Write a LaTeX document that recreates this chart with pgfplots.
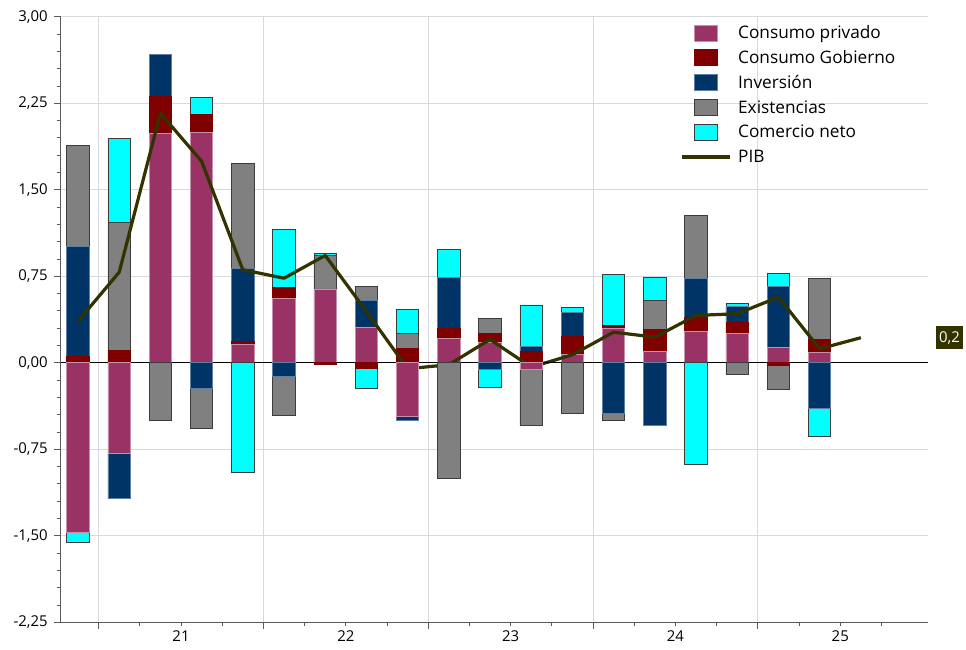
\documentclass[border=0pt]{standalone}
\usepackage{fontspec}
\setmainfont{Open Sans}
\usepackage{pgfplots}
\usepackage{pgfplotstable}
\pgfplotsset{compat=1.18}

\definecolor{cpriv}{HTML}{993366}
\definecolor{cpriv2}{HTML}{C890AC}
\definecolor{cgob}{HTML}{800000}
\definecolor{cinv}{HTML}{003366}
\definecolor{cinv2}{HTML}{5E7FA2}
\definecolor{cexi}{HTML}{808080}
\definecolor{ccom}{HTML}{00FFFF}
\definecolor{cedge}{HTML}{3C3C3C}
\definecolor{cpib}{HTML}{333300}
\definecolor{cgrid}{HTML}{D6DADF}
\definecolor{caxis}{HTML}{5A5A5A}

% aportaciones al PIB por trimestre (0 = 2020 T4)
\pgfplotstableread{
i  priv    gob     inv     exi     com
0  -1.470  0.055   0.950   0.880  -0.090
1  -0.790  0.107  -0.390   1.110   0.730
2   1.990  0.320   0.360  -0.500   0.000
3   2.000  0.150  -0.220  -0.350   0.150
4   0.159  0.028   0.628   0.909  -0.948
5   0.560  0.095  -0.116  -0.341   0.497
6   0.640 -0.010   0.000   0.290   0.020
7   0.310 -0.050   0.230   0.125  -0.170
8  -0.463  0.125  -0.037   0.130   0.210
9   0.208  0.087   0.447  -1.000   0.237
10  0.176  0.075  -0.061   0.130  -0.156
11 -0.060  0.095   0.046  -0.483   0.360
12  0.069  0.162   0.208  -0.437   0.043
13  0.300  0.020  -0.440  -0.060   0.442
14  0.100  0.186  -0.543   0.254   0.202
15  0.271  0.124   0.338   0.543  -0.884
16  0.251  0.101   0.136  -0.104   0.028
17  0.135 -0.023   0.526  -0.211   0.116
18  0.092  0.107  -0.399   0.534  -0.237
}\contrib

\pgfplotstableread{
i  pib
0  0.360
1  0.785
2  2.163
3  1.747
4  0.806
5  0.733
6  0.930
7  0.445
8  -0.052
9  -0.017
10 0.202
11 -0.038
12 0.069
13 0.265
14 0.222
15 0.410
16 0.425
17 0.569
18 0.121
19 0.217
}\pib

\pgfplotsset{
  base/.style={
    scale only axis, width=867.3bp, height=605.6bp,
    at={(0,0)}, anchor=south west,
    xmin=-0.42, xmax=20.63, ymin=-2.25, ymax=3,
    ybar stacked, bar width=22.5bp,
  },
  barleg/.style={legend image code/.code={
    \path[draw=none, fill=none] (-13bp,0) -- (35bp,0);
    \draw[##1, line width=0.8bp] (0bp,-8bp) rectangle (23bp,8bp);}},
  pibleg/.style={legend image code/.code={
    \draw[##1] (-13bp,0) -- (35bp,0);}},
  spriv/.style={fill=cpriv, draw=cpriv2, line width=0.8bp},
  sgob/.style={fill=cgob, draw=cgob, line width=0.8bp},
  sinv/.style={fill=cinv, draw=cinv2, line width=0.8bp},
  sexi/.style={fill=cexi, draw=cedge, line width=0.8bp},
  scom/.style={fill=ccom, draw=cedge, line width=0.8bp},
}

\begin{document}
\begin{tikzpicture}
\path[use as bounding box] (-60.7bp,-27.7bp) rectangle (905.3bp,622.3bp);

% parte positiva, rejilla y leyenda
\begin{axis}[
    base,
    axis x line*=bottom, axis y line*=left,
    axis line style={-, caxis, line width=0.8bp},
    tick align=outside,
    major tick length=6.5bp, minor tick length=4bp,
    tick style={caxis, line width=0.8bp},
    xtick={0.5,4.5,8.5,12.5,16.5},
    xticklabels={},
    minor xtick={1.5,2.5,3.5,5.5,6.5,7.5,9.5,10.5,11.5,13.5,14.5,15.5,17.5,18.5,19.5},
    extra x ticks={2.5,6.5,10.5,14.5,18.5},
    extra x tick labels={21,22,23,24,25},
    extra x tick style={major tick length=0pt, grid=none},
    xticklabel style={font=\fontsize{15}{18}\selectfont, yshift=-5bp},
    ytick={-2.25,-1.5,-0.75,0,0.75,1.5,2.25,3},
    minor y tick num=4,
    yticklabel style={font=\fontsize{15}{18}\selectfont, xshift=-3bp,
      /pgf/number format/.cd, fixed, fixed zerofill, precision=2, use comma},
    /pgf/number format/assume math mode=true,
    xmajorgrids, ymajorgrids,
    grid style={cgrid, line width=0.8bp},
    legend cell align=left,
    legend style={at={(0.714,0.9935)}, anchor=north west, draw=none, fill=none,
      inner sep=0pt, outer sep=0pt, column sep=7bp, row sep=0pt,
      font=\fontsize{17.3}{20}\selectfont,
      nodes={inner sep=0pt, minimum height=24.8bp}},
]
\addplot[spriv, barleg] table[x=i, y expr={max(\thisrow{priv},0)}]{\contrib};
\addlegendentry{Consumo privado}
\addplot[sgob, barleg] table[x=i, y expr={max(\thisrow{gob},0)}]{\contrib};
\addlegendentry{Consumo Gobierno}
\addplot[sinv, barleg] table[x=i, y expr={max(\thisrow{inv},0)}]{\contrib};
\addlegendentry{Inversión}
\addplot[sexi, barleg] table[x=i, y expr={max(\thisrow{exi},0)}]{\contrib};
\addlegendentry{Existencias}
\addplot[scom, barleg] table[x=i, y expr={max(\thisrow{com},0)}]{\contrib};
\addlegendentry{Comercio neto}
\addlegendimage{pibleg, cpib, line width=3.2bp}
\addlegendentry{PIB}
\end{axis}

% parte negativa y PIB
\begin{axis}[base, hide axis, clip=false]
\addplot[spriv] table[x=i, y expr={min(\thisrow{priv},0)}]{\contrib};
\addplot[sgob] table[x=i, y expr={min(\thisrow{gob},0)}]{\contrib};
\addplot[sinv] table[x=i, y expr={min(\thisrow{inv},0)}]{\contrib};
\addplot[sexi] table[x=i, y expr={min(\thisrow{exi},0)}]{\contrib};
\addplot[scom] table[x=i, y expr={min(\thisrow{com},0)}]{\contrib};
\draw[black, line width=0.8bp] (axis cs:-0.42,0) -- (axis cs:20.63,0);
\addplot[sharp plot, stack plots=false, no markers, cpib, line width=3.2bp,
  line join=round] table[x=i, y=pib]{\pib};
\node[fill=cpib, text=white, font=\fontsize{15}{18}\selectfont,
  minimum width=27bp, minimum height=23bp, inner sep=2bp]
  at (axis cs:21.15,0.217) {0,2};
\end{axis}
\end{tikzpicture}
\end{document}
